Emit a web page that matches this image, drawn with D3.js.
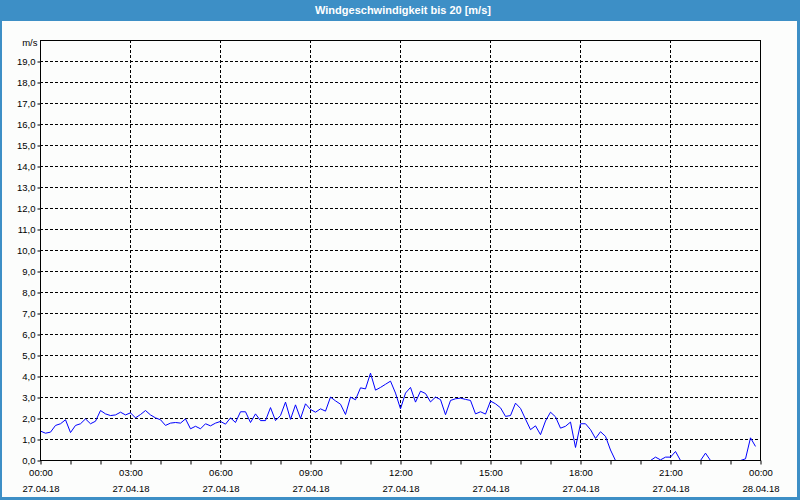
<!DOCTYPE html>
<html>
<head>
<meta charset="utf-8">
<title>Windgeschwindigkeit</title>
<style>
  body { margin: 0; background: #fcfdfc; }
  svg { display: block; font-family: "Liberation Sans", Arial, sans-serif; }
</style>
</head>
<body>
<script src="https://cdn.jsdelivr.net/npm/d3@7"></script>
<script>
var titleText = "Windgeschwindigkeit bis 20 [m/s]";
var unitLabel = "m/s";
var startTime = "2018-04-27T00:00";
var endTime = "2018-04-28T00:00";
var stepMinutes = 10;
// wind speed in m/s, one value every 10 minutes
var speeds = [
  1.40, 1.30, 1.35, 1.67, 1.75, 1.94, 1.33, 1.67, 1.75, 1.98, 1.75, 1.87,
  2.38, 2.22, 2.14, 2.17, 2.30, 2.17, 2.27, 2.03, 2.19, 2.38, 2.17, 2.03,
  1.94, 1.67, 1.78, 1.81, 1.78, 1.98, 1.51, 1.63, 1.51, 1.75, 1.65, 1.78,
  1.86, 1.73, 2.03, 1.81, 2.32, 2.32, 1.81, 2.22, 1.90, 1.90, 2.52, 1.90,
  2.14, 2.78, 1.96, 2.65, 2.00, 2.70, 2.43, 2.30, 2.46, 2.35, 3.02, 2.84,
  2.68, 2.19, 3.02, 2.89, 3.46, 3.41, 4.16, 3.35, 3.48, 3.63, 3.78, 3.21,
  2.46, 3.21, 3.48, 2.78, 3.30, 3.19, 2.79, 3.02, 2.90, 2.18, 2.86, 2.94,
  2.97, 2.91, 2.86, 2.22, 2.32, 2.21, 2.83, 2.70, 2.51, 2.10, 2.14, 2.73,
  2.48, 1.97, 1.47, 1.65, 1.23, 1.88, 2.30, 2.08, 1.54, 1.63, 1.83, 0.62,
  1.75, 1.75, 1.47, 1.05, 1.37, 1.15, 0.50, 0.00, 0.00, 0.00, 0.00, 0.00,
  0.00, 0.00, 0.00, 0.16, 0.03, 0.16, 0.16, 0.43, 0.00, 0.00, 0.00, 0.00,
  0.00, 0.35, 0.00, 0.00, 0.00, 0.00, 0.00, 0.00, 0.00, 0.08, 1.08, 0.67
];
var yTicks = [0, 1, 2, 3, 4, 5, 6, 7, 8, 9, 10, 11, 12, 13, 14, 15, 16, 17, 18, 19];
var xTickHours = [0, 3, 6, 9, 12, 15, 18, 21, 24];

var W = 800, H = 500;
var m = {top: 40, right: 40, bottom: 40, left: 40};
var blue = "#3d8fc6";
var font = "Liberation Sans, Arial, sans-serif";

var parse = d3.timeParse("%Y-%m-%dT%H:%M");
var t0 = parse(startTime), t1 = parse(endTime);
var points = speeds.map(function(v, i) {
  return {t: d3.timeMinute.offset(t0, i * stepMinutes), v: v};
});

var svg = d3.select("body").append("svg").attr("width", W).attr("height", H);

svg.append("rect").attr("width", W).attr("height", H).attr("fill", "#fcfdfc");
// title bar + frame
svg.append("rect").attr("x", 0).attr("y", 0).attr("width", W).attr("height", 21).attr("fill", blue);
svg.append("rect").attr("x", 0).attr("y", 0).attr("width", 2).attr("height", H).attr("fill", blue);
svg.append("rect").attr("x", W - 3).attr("y", 0).attr("width", 3).attr("height", H).attr("fill", blue);
svg.append("rect").attr("x", 0).attr("y", H - 3).attr("width", W).attr("height", 3).attr("fill", blue);
svg.append("text").attr("x", W / 2 + 3).attr("y", 14).attr("text-anchor", "middle")
  .attr("fill", "#fff").attr("font-size", "11px").attr("font-weight", "bold")
  .text(titleText);

var x = d3.scaleTime().domain([t0, t1]).range([m.left, W - m.right]);
var y = d3.scaleLinear().domain([0, 20]).range([H - m.bottom, m.top]);

// grid
svg.append("g").selectAll("line").data(yTicks.filter(function(d) { return d > 0; }))
  .join("line")
  .attr("x1", m.left).attr("x2", W - m.right)
  .attr("y1", function(d) { return y(d) + 0.5; }).attr("y2", function(d) { return y(d) + 0.5; })
  .attr("stroke", "#000").attr("stroke-dasharray", "3,2");

var majorTimes = xTickHours.map(function(h) { return d3.timeHour.offset(t0, h); });
svg.append("g").selectAll("line").data(majorTimes.slice(1, -1))
  .join("line")
  .attr("x1", function(d) { return x(d) + 0.5; }).attr("x2", function(d) { return x(d) + 0.5; })
  .attr("y1", m.top).attr("y2", H - m.bottom)
  .attr("stroke", "#000").attr("stroke-dasharray", "3,2");

// y axis
var yAxis = d3.axisLeft(y).tickValues(yTicks).tickSize(3).tickPadding(2)
  .tickFormat(function(d) { return d3.format(".1f")(d).replace(".", ","); });
var gy = svg.append("g").attr("transform", "translate(" + (m.left + 0.5) + ",0.5)").call(yAxis);
gy.select(".domain").remove();
gy.selectAll("text").attr("font-family", font).attr("font-size", "9.5px").attr("fill", "#000");
gy.append("text").attr("x", -3).attr("y", m.top + 5).attr("text-anchor", "end")
  .attr("font-size", "9.5px").attr("fill", "#000").text(unitLabel);

// x axis with minor hourly ticks
var xAxisMinor = d3.axisBottom(x).ticks(d3.timeHour.every(1)).tickSize(4).tickFormat("");
var gxm = svg.append("g").attr("transform", "translate(0.5," + (H - m.bottom + 0.5) + ")").call(xAxisMinor);
gxm.select(".domain").remove();

var xAxis = d3.axisBottom(x).tickValues(majorTimes).tickSize(0).tickPadding(9)
  .tickFormat(d3.timeFormat("%H:%M"));
var gx = svg.append("g").attr("transform", "translate(0.5," + (H - m.bottom) + ")").call(xAxis);
gx.select(".domain").remove();
gx.selectAll("text").attr("font-family", font).attr("font-size", "9.5px").attr("fill", "#000");
gx.selectAll(".tick").append("text")
  .attr("y", 32).attr("fill", "#000").attr("font-size", "9.5px")
  .attr("font-family", font).attr("text-anchor", "middle")
  .text(function(d) { return d3.timeFormat("%d.%m.%y")(d); });

// data line
var line = d3.line().x(function(d) { return x(d.t); }).y(function(d) { return y(d.v); });
svg.append("path").datum(points).attr("d", line)
  .attr("transform", "translate(0.5,0.5)")
  .attr("fill", "none").attr("stroke", "#0000ff").attr("stroke-width", 1);

// plot frame drawn over the line so zero values sit under the axis
svg.append("rect").attr("x", m.left + 0.5).attr("y", m.top + 0.5)
  .attr("width", W - m.left - m.right).attr("height", H - m.top - m.bottom)
  .attr("fill", "none").attr("stroke", "#000").attr("stroke-width", 1);
</script>
</body>
</html>
